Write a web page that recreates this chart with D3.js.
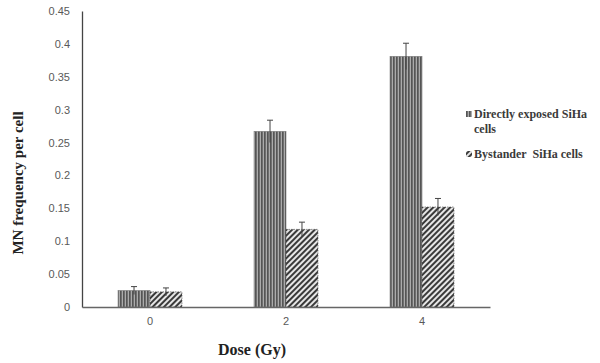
<!DOCTYPE html>
<html lang="en">
<head>
    <meta charset="UTF-8">
    <title>MN frequency per cell</title>
    <style>
        body {
            margin: 0;
            background: #ffffff;
            overflow: hidden;
        }
        svg {
            display: block;
        }
        .tick-label {
            font-family: "Liberation Sans", Arial, sans-serif;
            font-size: 11px;
            fill: #595959;
        }
        .axis-title {
            font-family: "Liberation Serif", "Times New Roman", serif;
            font-weight: bold;
            fill: #222;
        }
        .legend-text {
            font-family: "Liberation Serif", "Times New Roman", serif;
            font-weight: bold;
            font-size: 12px;
            fill: #3a3a3a;
            white-space: pre;
        }
    </style>
</head>
<body>
    <svg id="chart" width="600" height="363"></svg>

    <script src="https://d3js.org/d3.v7.min.js"></script>
    <script>
        // data
        const doses = ["0", "2", "4"];
        const seriesNames = ["Directly exposed SiHa cells", "Bystander  SiHa cells"];
        const directValues = [0.025, 0.267, 0.381];
        const directErrors = [0.006, 0.017, 0.020];
        const bystanderValues = [0.023, 0.118, 0.152];
        const bystanderErrors = [0.006, 0.011, 0.013];
        const yTicks = [0, 0.05, 0.1, 0.15, 0.2, 0.25, 0.3, 0.35, 0.4, 0.45];
        const yTickLabels = ["0", "0.05", "0.1", "0.15", "0.2", "0.25", "0.3", "0.35", "0.4", "0.45"];

        const svg = d3.select("#chart");
        const defs = svg.append("defs");

        // vertical stripe pattern for directly exposed cells
        const vStripe = defs.append("pattern")
            .attr("id", "vstripe")
            .attr("patternUnits", "userSpaceOnUse")
            .attr("width", 3)
            .attr("height", 4);
        vStripe.append("rect").attr("width", 3).attr("height", 4).attr("fill", "#ababab");
        vStripe.append("rect").attr("width", 1.7).attr("height", 4).attr("fill", "#555");

        // diagonal hatch for bystander cells
        const hatch = defs.append("pattern")
            .attr("id", "hatch")
            .attr("patternUnits", "userSpaceOnUse")
            .attr("width", 4)
            .attr("height", 4)
            .attr("patternTransform", "rotate(45)");
        hatch.append("rect").attr("width", 4).attr("height", 4).attr("fill", "#e6e6e6");
        hatch.append("rect").attr("width", 2).attr("height", 4).attr("fill", "#3a3a3a");

        const plot = { left: 82, right: 490, top: 11, bottom: 307 };

        const x0 = d3.scaleBand()
            .domain(doses)
            .range([plot.left, plot.right])
            .paddingInner(0.53)
            .paddingOuter(0.265);

        const x1 = d3.scaleBand()
            .domain([0, 1])
            .range([0, x0.bandwidth()]);

        const y = d3.scaleLinear()
            .domain([0, 0.45])
            .range([plot.bottom, plot.top]);

        const rows = [];
        doses.forEach((d, i) => {
            rows.push({ dose: d, s: 0, v: directValues[i], e: directErrors[i] });
            rows.push({ dose: d, s: 1, v: bystanderValues[i], e: bystanderErrors[i] });
        });

        // bars
        svg.selectAll(".bar")
            .data(rows)
            .enter().append("rect")
            .attr("class", "bar")
            .attr("x", d => x0(d.dose) + x1(d.s))
            .attr("y", d => y(d.v))
            .attr("width", x1.bandwidth())
            .attr("height", d => y(0) - y(d.v))
            .attr("fill", d => d.s === 0 ? "url(#vstripe)" : "url(#hatch)")
            .attr("stroke", d => d.s === 0 ? "#777" : "#444")
            .attr("stroke-width", 0.6)
            .attr("stroke-dasharray", d => d.s === 0 ? null : "1.5,1");

        // error bars
        const cx = d => x0(d.dose) + x1(d.s) + x1.bandwidth() / 2;
        const err = svg.append("g").attr("stroke", "#444").attr("stroke-width", 1);
        err.selectAll(".err")
            .data(rows)
            .enter().append("line")
            .attr("x1", cx).attr("x2", cx)
            .attr("y1", d => y(d.v + d.e))
            .attr("y2", d => y(d.v - d.e));
        err.selectAll(".cap")
            .data(rows)
            .enter().append("line")
            .attr("x1", d => cx(d) - 3).attr("x2", d => cx(d) + 3)
            .attr("y1", d => y(d.v + d.e))
            .attr("y2", d => y(d.v + d.e));

        // axes
        const yAxis = svg.append("g")
            .attr("transform", `translate(${plot.left},0)`)
            .call(d3.axisLeft(y).tickValues(yTicks).tickSize(0).tickPadding(12)
                .tickFormat((d, i) => yTickLabels[i]));
        yAxis.select(".domain").attr("stroke", "#444").attr("stroke-width", 1.3);
        yAxis.selectAll("text").attr("class", "tick-label");

        const xAxis = svg.append("g")
            .attr("transform", `translate(0,${plot.bottom})`)
            .call(d3.axisBottom(x0).tickSize(0).tickPadding(10).tickSizeOuter(0));
        xAxis.select(".domain").attr("stroke", "#666").attr("stroke-width", 1.3);
        xAxis.selectAll("text").attr("class", "tick-label");

        // axis titles
        svg.append("text")
            .attr("class", "axis-title")
            .attr("x", 252)
            .attr("y", 355)
            .attr("text-anchor", "middle")
            .style("font-size", "16px")
            .text("Dose (Gy)");

        svg.append("text")
            .attr("class", "axis-title")
            .attr("transform", "translate(23,183) rotate(-90)")
            .attr("text-anchor", "middle")
            .style("font-size", "15px")
            .text("MN frequency per cell");

        // legend
        const legend = svg.append("g").attr("transform", "translate(466,0)");
        const legendLines = [["Directly exposed SiHa", "cells"], [seriesNames[1]]];
        const legendY = [118, 158];
        legendLines.forEach((lines, i) => {
            legend.append("rect")
                .attr("x", 0)
                .attr("y", legendY[i] - 7)
                .attr("width", 6)
                .attr("height", 6)
                .attr("fill", i === 0 ? "url(#vstripe)" : "url(#hatch)");
            const t = legend.append("text")
                .attr("class", "legend-text")
                .attr("x", 8)
                .attr("y", legendY[i]);
            lines.forEach((l, j) => {
                t.append("tspan").attr("x", 8).attr("dy", j === 0 ? 0 : 15).text(l);
            });
        });
    </script>
</body>
</html>
